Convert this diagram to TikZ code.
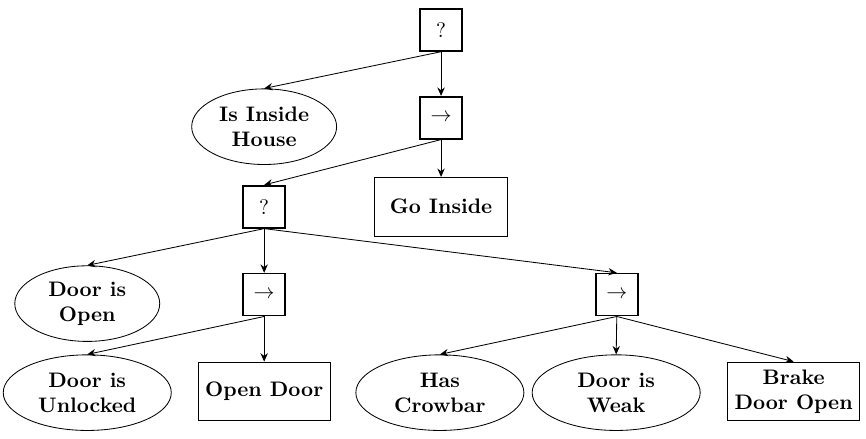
\documentclass[tikz,border=0pt]{standalone}
\usepackage{amsmath}
\usepackage{tikz}
\usetikzlibrary{shapes.geometric,arrows.meta}

\begin{document}
\begin{tikzpicture}[
    ctrl/.style = {draw, thick, minimum size=20pt, inner sep=0pt},
    cond/.style = {draw, ellipse, align=center, font=\bfseries, minimum width=69pt, minimum height=36pt, inner sep=1pt},
    wide/.style = {minimum width=80pt},
    act/.style  = {draw, rectangle, align=center, font=\bfseries, minimum width=63pt, minimum height=28pt, inner sep=1pt},
    edge/.style = {-{Stealth[length=4pt, width=3.5pt]}}
  ]
                \useasboundingbox (0,0) rectangle (14.49,7.34);

                % Root fallback and first sequence
                \node[ctrl] (F1) at (7.38,6.84) {?};
                \node[cond] (Inside) at (4.42,5.22) {Is Inside\\House};
                \node[ctrl] (S1) at (7.38,5.37) {$\rightarrow$};
                \node[act] (GoIn) at (7.38,3.88) {Go Inside};

                % Second fallback - open the door somehow
                \node[ctrl] (F2) at (4.42,3.88) {?};
                \node[cond] (Open) at (1.46,2.26) {Door is\\Open};
                \node[ctrl] (S2) at (4.42,2.41) {$\rightarrow$};
                \node[ctrl] (S3) at (10.32,2.41) {$\rightarrow$};

                % Leaves
                \node[cond, wide] (Unlock) at (1.46,0.77) {Door is\\Unlocked};
                \node[act] (OpenDoor) at (4.42,0.79) {Open Door};
                \node[cond, wide] (Crow) at (7.36,0.77) {Has\\Crowbar};
                \node[cond, wide] (Weak) at (10.31,0.77) {Door is\\Weak};
                \node[act] (Brake) at (13.28,0.79) {Brake\\Door Open};

                % Edges
                \draw[edge] (F1.south) -- (Inside.north);
                \draw[edge] (F1.south) -- (S1.north);
                \draw[edge] (S1.south) -- (F2.north);
                \draw[edge] (S1.south) -- (GoIn.north);
                \draw[edge] (F2.south) -- (Open.north);
                \draw[edge] (F2.south) -- (S2.north);
                \draw[edge] (F2.south) -- (S3.north);
                \draw[edge] (S2.south) -- (Unlock.north);
                \draw[edge] (S2.south) -- (OpenDoor.north);
                \draw[edge] (S3.south) -- (Crow.north);
                \draw[edge] (S3.south) -- (Weak.north);
                \draw[edge] (S3.south) -- (Brake.north);
            \end{tikzpicture}
\end{document}
